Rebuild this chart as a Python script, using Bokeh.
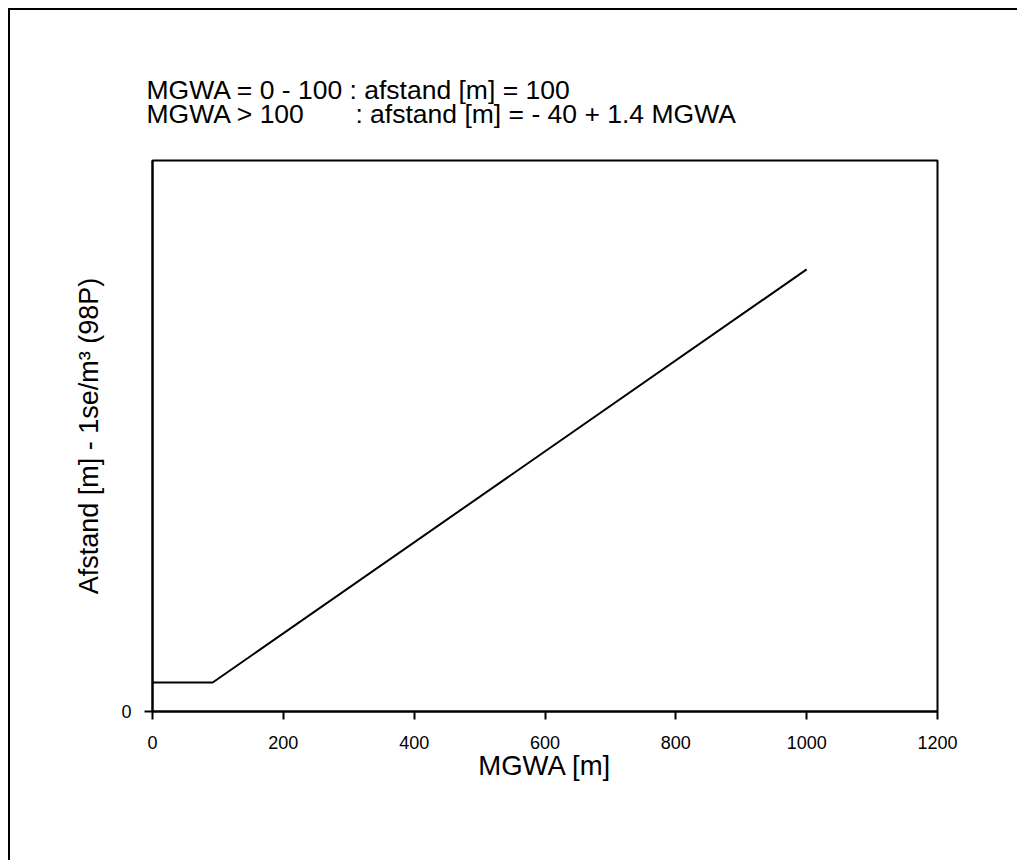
from bokeh.plotting import figure
from bokeh.models import FixedTicker, Range1d
from bokeh.embed import file_html
from bokeh.resources import INLINE

# data
mgwa = [0, 92, 1000]
afstand = [89, 89, 1356]
x_ticks = [0, 200, 400, 600, 800, 1000, 1200]
y_ticks = [0]
NB = "\u00a0"
note_line1 = "MGWA = 0 - 100 : afstand [m] = 100"
note_line2 = "MGWA > 100" + NB * 7 + ": afstand [m] = - 40 + 1.4 MGWA"

FONT = "Liberation Sans"

p = figure(width=1015, height=852, output_backend="svg", toolbar_location=None,
           x_range=Range1d(0, 1200), y_range=Range1d(0, 1690),
           min_border_left=142, min_border_right=88, min_border_top=150, min_border_bottom=151)
p.styles = {"margin-top": "8px", "margin-left": "8px",
            "border-style": "solid none none solid", "border-width": "2px 0px 0px 2px",
            "border-color": "black", "clip-path": "inset(0px 6px 0px 0px)"}
p.grid.visible = False
p.outline_line_color = "black"
p.outline_line_width = 2
p.background_fill_color = "white"
p.border_fill_color = "white"

p.line(mgwa, afstand, line_color="black", line_width=2)

for ax in (p.xaxis[0], p.yaxis[0]):
    ax.axis_line_color = "black"
    ax.axis_line_width = 2
    ax.major_tick_line_color = "black"
    ax.major_tick_line_width = 2
    ax.major_tick_out = 8
    ax.major_tick_in = 0
    ax.minor_tick_line_color = None
    ax.major_label_text_font = FONT
    ax.major_label_text_font_size = "18px"
    ax.major_label_text_color = "black"
    ax.axis_label_text_font = FONT
    ax.axis_label_text_font_style = "normal"
    ax.axis_label_text_color = "black"

p.xaxis.axis_label_text_font_size = "27.5px"
p.yaxis.axis_label_text_font_size = "27px"
p.xaxis.ticker = FixedTicker(ticks=x_ticks)
p.yaxis.ticker = FixedTicker(ticks=y_ticks)
p.xaxis.axis_label = "MGWA [m]"
p.yaxis.axis_label = "Afstand [m] - 1se/m³ (98P)"
p.xaxis.major_label_standoff = 16
p.xaxis.axis_label_standoff = -2
p.yaxis.major_label_standoff = 13
p.yaxis.axis_label_standoff = 14

t = p.title
t.text = note_line1 + "\n" + note_line2
t.align = "left"
t.offset = -6
t.standoff = 62
t.text_font = FONT
t.text_font_size = "26.5px"
t.text_font_style = "normal"
t.text_color = "black"
t.text_line_height = 0.82

open("out.html", "w").write(file_html(p, INLINE))
